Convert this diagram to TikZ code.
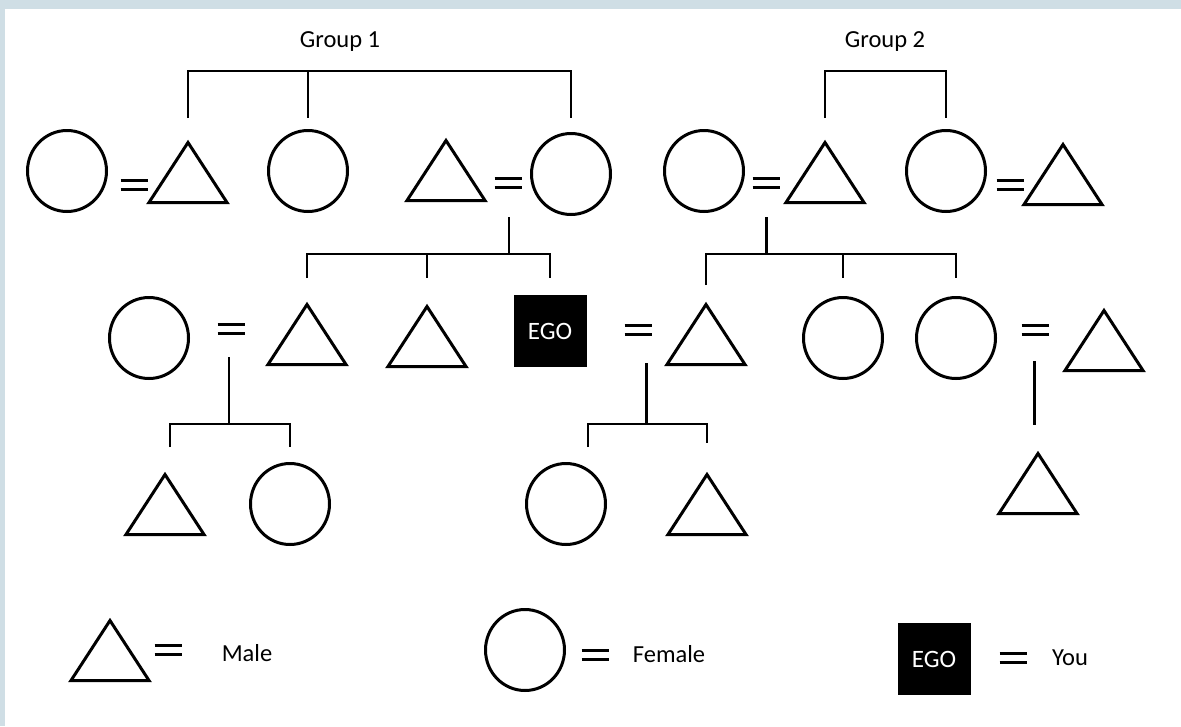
\documentclass[tikz,border=0pt]{standalone}
\usepackage{fontspec}
\setmainfont{Carlito}
\usetikzlibrary{shapes.geometric}
\definecolor{frameblue}{RGB}{207,222,229}
\tikzset{
  male/.style={draw, line width=3pt, isosceles triangle, isosceles triangle stretches,
    shape border rotate=90, minimum width=78pt, minimum height=60pt, inner sep=0pt, anchor=south},
  female/.style={draw, line width=3pt, ellipse, minimum width=79pt, minimum height=81pt, inner sep=0pt},
  egobox/.style={fill=black, text=white, minimum width=73pt, minimum height=72pt, inner sep=0pt,
    font=\fontsize{25}{29}\selectfont},
  lbl/.style={font=\fontsize{24.5}{29}\selectfont},
  kin/.style={line width=2.8pt}
}
% equals sign between spouses
\newcommand{\eqsign}[2]{\draw[line width=2.5pt] (#1-13.5,#2-4.5) -- ++(27,0) (#1-13.5,#2+4.5) -- ++(27,0);}
\begin{document}
\begin{tikzpicture}[x=1pt,y=-1pt]
  \useasboundingbox (0,0) rectangle (1181,726);
  \fill[frameblue] (0,0) rectangle (1181,726);
  \fill[white] (5,9) rectangle (1181,726);

  % groups
  \node[lbl] (g1) at (340,42) {Group 1};
  \node[lbl] (g2) at (885,42) {Group 2};

  % first generation
  \node[female] (fA) at (67,171) {};
  \eqsign{134}{185}
  \node[male] (mB) at (188,204) {};
  \node[female] (fC) at (308,171) {};
  \node[male] (mD) at (446,202) {};
  \eqsign{508}{183}
  \node[female] (fE) at (571,174) {};
  \node[female] (fF) at (704,171) {};
  \eqsign{766}{183}
  \node[male] (mG) at (825,204) {};
  \node[female] (fH) at (946,171) {};
  \eqsign{1010}{185}
  \node[male] (mI) at (1063,206) {};

  \draw[kin] (mB.north |- 0,118) -- (mB.north |- 0,71) -- (fE.north |- 0,71) -- (fE.north |- 0,118);
  \draw[kin] (fC.north |- 0,71) -- (fC.north |- 0,118);
  \draw[kin] (mG.north |- 0,118) -- (mG.north |- 0,71) -- (fH.north |- 0,71) -- (fH.north |- 0,118);

  % second generation
  \node[female] (fJ) at (149,338) {};
  \eqsign{231}{329}
  \node[male] (mK) at (307,366) {};
  \node[male] (mL) at (427,368) {};
  \node[egobox] (ego) at (550,331) {EGO};
  \eqsign{638}{330}
  \node[male] (mM) at (706,366) {};
  \node[female] (fN) at (843,338) {};
  \node[female] (fO) at (956,338) {};
  \eqsign{1035}{330}
  \node[male] (mP) at (1104,372) {};

  \coordinate (cDE) at (509,217);
  \draw[kin] (cDE) -- (cDE |- 0,254);
  \draw[kin] (mK.north |- 0,278) -- (mK.north |- 0,254) -- (ego.north |- 0,254) -- (ego.north |- 0,278);
  \draw[kin] (mL.north |- 0,254) -- (mL.north |- 0,278);
  \coordinate (cFG) at (766.5,217);
  \draw[kin] (cFG) -- (cFG |- 0,254);
  \draw[kin] (mM.north |- 0,285) -- (mM.north |- 0,254) -- (fO.north |- 0,254) -- (fO.north |- 0,278);
  \draw[kin] (fN.north |- 0,254) -- (fN.north |- 0,278);

  % third generation
  \node[male] (mQ) at (165,536) {};
  \node[female] (fR) at (290,504) {};
  \node[female] (fS) at (566,504) {};
  \node[male] (mT) at (707,536) {};
  \node[male] (mU) at (1038,515) {};

  \coordinate (cJK) at (229,357);
  \draw[kin] (cJK) -- (cJK |- 0,424);
  \draw[kin] ([xshift=5pt]mQ.north |- 0,447) -- ([xshift=5pt]mQ.north |- 0,424) -- (fR.north |- 0,424) -- (fR.north |- 0,447);
  \coordinate (cEM) at (646.5,363);
  \draw[kin] (cEM) -- (cEM |- 0,424);
  \draw[kin] ([xshift=22pt]fS.north |- 0,447) -- ([xshift=22pt]fS.north |- 0,424) -- (mT.north |- 0,424) -- (mT.north |- 0,443);
  \coordinate (cOP) at (1034.5,361);
  \draw[kin] (cOP) -- (cOP |- 0,425);

  % legend
  \node[male] (lm) at (110,682) {};
  \eqsign{168}{650}
  \node[lbl] (tm) at (247,653) {Male};
  \node[female] (lf) at (525,650) {};
  \eqsign{595}{655}
  \node[lbl] (tf) at (669,654) {Female};
  \node[egobox] (le) at (934,659) {EGO};
  \eqsign{1013}{658}
  \node[lbl] (ty) at (1070,658) {You};
\end{tikzpicture}
\end{document}
